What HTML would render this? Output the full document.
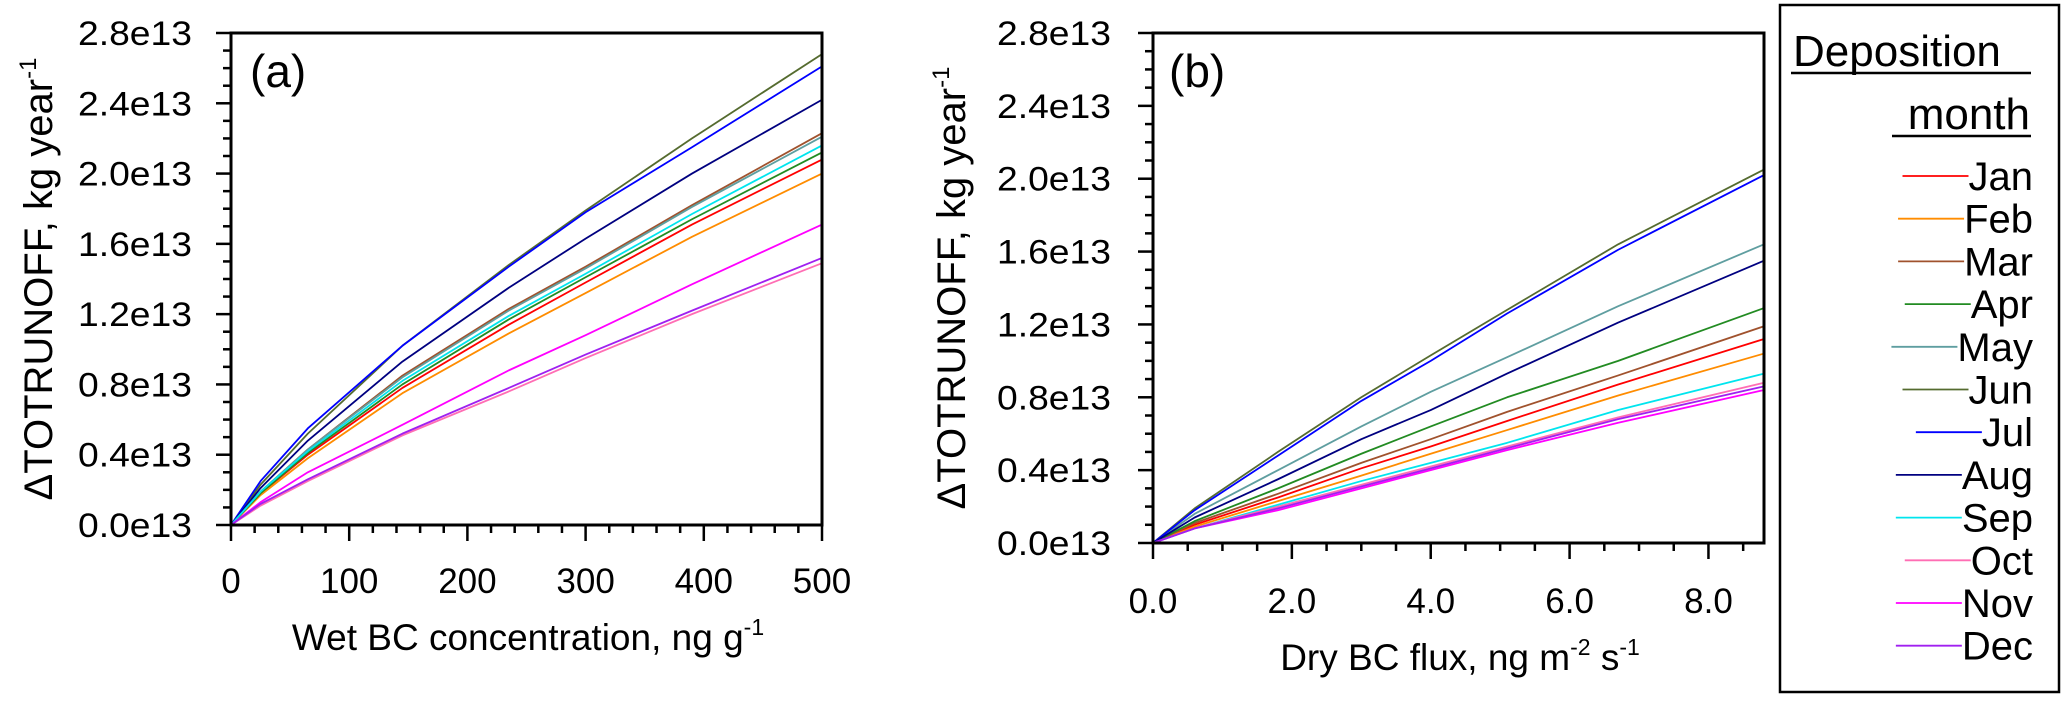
<!DOCTYPE html>
<html><head><meta charset="utf-8"><style>
html,body{margin:0;padding:0;background:#fff;}
svg{display:block;font-family:"Liberation Sans",Arial,sans-serif;}
</style></head><body>
<svg id="fig" width="2067" height="703" viewBox="0 0 2067 703" xmlns="http://www.w3.org/2000/svg">
<g id="pa"></g>
<g id="pb"></g>
<g id="legend">
<rect x="1780" y="5" width="279" height="687" fill="none" stroke="#000" stroke-width="2.5"/>
<text x="1793" y="66" font-size="44">Deposition</text>
<line x1="1791" y1="73" x2="2031" y2="73" stroke="#000" stroke-width="2.5"/>
<text x="2030" y="129" font-size="44" text-anchor="end">month</text>
<line x1="1892" y1="136" x2="2031" y2="136" stroke="#000" stroke-width="2.5"/>
</g>
</svg>
<script>
const months = ["Jan","Feb","Mar","Apr","May","Jun","Jul","Aug","Sep","Oct","Nov","Dec"];
const colors = ["#ff0000","#ff8c00","#a0522d","#228b22","#5f9ea0","#556b2f","#0000ff","#000080","#00e5ee","#ff6eb4","#ff00ff","#a020f0"];
// Panel (a): wet BC concentration
const xA = [0, 25, 65, 145, 235, 300, 390, 500];
const aJan = [0,0.18,0.40,0.78,1.14,1.38,1.71,2.08];
const aFeb = [0,0.17,0.38,0.75,1.09,1.32,1.64,2.00];
const aMar = [0,0.19,0.43,0.85,1.23,1.47,1.82,2.23];
const aApr = [0,0.18,0.41,0.80,1.17,1.41,1.74,2.12];
const aMay = [0,0.19,0.43,0.84,1.22,1.46,1.81,2.21];
const aJun = [0,0.23,0.52,1.02,1.48,1.79,2.20,2.68];
const aJul = [0,0.25,0.55,1.02,1.47,1.78,2.15,2.61];
const aAug = [0,0.21,0.48,0.93,1.35,1.63,2.00,2.42];
const aSep = [0,0.19,0.42,0.82,1.19,1.43,1.77,2.16];
const aOct = [0,0.11,0.25,0.51,0.76,0.95,1.20,1.49];
const aNov = [0,0.13,0.30,0.57,0.88,1.08,1.37,1.71];
const aDec = [0,0.12,0.26,0.52,0.78,0.97,1.22,1.52];
// Panel (b): dry BC flux
const xB = [0, 0.6, 1.8, 3.0, 4.0, 5.1, 6.7, 8.8];
const bJan = [0,0.10,0.25,0.41,0.53,0.67,0.87,1.12];
const bFeb = [0,0.09,0.23,0.37,0.49,0.62,0.81,1.04];
const bMar = [0,0.11,0.27,0.44,0.57,0.72,0.92,1.19];
const bApr = [0,0.12,0.30,0.49,0.64,0.80,1.00,1.29];
const bMay = [0,0.16,0.40,0.64,0.83,1.02,1.30,1.64];
const bJun = [0,0.19,0.50,0.80,1.03,1.28,1.64,2.05];
const bJul = [0,0.18,0.48,0.78,1.00,1.26,1.61,2.02];
const bAug = [0,0.14,0.35,0.57,0.73,0.93,1.21,1.55];
const bSep = [0,0.08,0.21,0.34,0.44,0.55,0.73,0.93];
const bOct = [0,0.08,0.20,0.32,0.42,0.53,0.69,0.88];
const bNov = [0,0.08,0.18,0.30,0.40,0.51,0.66,0.84];
const bDec = [0,0.08,0.19,0.31,0.41,0.52,0.68,0.86];
const yTicks = ["0.0e13","0.4e13","0.8e13","1.2e13","1.6e13","2.0e13","2.4e13","2.8e13"];
const xTicksA = ["0","100","200","300","400","500"];
const xTicksB = ["0.0","2.0","4.0","6.0","8.0"];

const seriesA = [aJan,aFeb,aMar,aApr,aMay,aJun,aJul,aAug,aSep,aOct,aNov,aDec];
const seriesB = [bJan,bFeb,bMar,bApr,bMay,bJun,bJul,bAug,bSep,bOct,bNov,bDec];
const NS = "http://www.w3.org/2000/svg";
function mk(tag, attrs, parent){const e=document.createElementNS(NS,tag);for(const k in attrs)e.setAttribute(k,attrs[k]);parent.appendChild(e);return e;}

function panel(g, cfg){
  const {L,R,T,B,xmax,xs,series,xTickVals,xTickLbls,xMinor,label,labX,ytitleX,ytickR,xlblY,xtitle,xtitleY,xtitleX} = cfg;
  const sx = v => L + v/xmax*(R-L);
  const sy = v => B - v/2.8*(B-T);
  series.forEach((s,i)=>{
    const p = mk("polyline",{points:s.map((v,j)=>sx(xs[j])+","+sy(v)).join(" "),fill:"none",stroke:colors[i],"stroke-width":"1.8","stroke-linejoin":"round"},g);
    
    
  });
  const fr = mk("rect",{x:L,y:T,width:R-L,height:B-T,fill:"none",stroke:"#000","stroke-width":"3"},g);
  
  
  for(let k=0;k<=28;k++){
    const v=k/10, y=sy(v), major=k%4===0;
    mk("line",{x1:L-(major?15:8),x2:L,y1:y,y2:y,stroke:"#000","stroke-width":"2.5"},g);
  }
  yTicks.forEach((t,k)=>{
    const tx = mk("text",{x:ytickR,y:sy(k*0.4)+12,"font-size":"34","text-anchor":"end",textLength:"114",lengthAdjust:"spacingAndGlyphs"},g);
    tx.textContent=t;
    
    
  });
  for(let v=0; v<=xmax+1e-9; v+=xMinor){
    const x=sx(v);
    const major = xTickVals.some(t=>Math.abs(t-v)<1e-6);
    mk("line",{x1:x,x2:x,y1:B,y2:B+(major?16:8),stroke:"#000","stroke-width":"2.5"},g);
  }
  xTickLbls.forEach((t,k)=>{
    const tx = mk("text",{x:sx(xTickVals[k]),y:xlblY,"font-size":"35","text-anchor":"middle"},g);
    tx.textContent=t;
    
    
  });
  const pl = mk("text",{x:labX,y:T+54,"font-size":"46"},g);
  pl.textContent=label;
  
  
  const yt = mk("text",{x:0,y:0,"font-size":"40","text-anchor":"middle",transform:"translate("+ytitleX+","+((T+B)/2)+") rotate(-90)"},g);
  yt.innerHTML = 'ΔTOTRUNOFF, kg year<tspan font-size="24" dy="-16">-1</tspan>';
  
  
  const xt = mk("text",{x:xtitleX,y:xtitleY,"font-size":"37","text-anchor":"middle"},g);
  xt.innerHTML = xtitle;
  
  
}

panel(document.getElementById("pa"),{L:231,R:822,T:33,B:525,xmax:500,xs:xA,series:seriesA,
  xTickVals:[0,100,200,300,400,500],xTickLbls:xTicksA,xMinor:20,label:"(a)",labX:250,
  ytitleX:52,ytickR:192,xlblY:593,xtitle:'Wet BC concentration, ng g<tspan font-size="23" dy="-15">-1</tspan>',xtitleY:650,xtitleX:528});
panel(document.getElementById("pb"),{L:1153,R:1764,T:33,B:543,xmax:8.8,xs:xB,series:seriesB,
  xTickVals:[0,2,4,6,8],xTickLbls:xTicksB,xMinor:0.5,label:"(b)",labX:1169,
  ytitleX:965,ytickR:1111,xlblY:613,xtitle:'Dry BC flux, ng m<tspan font-size="23" dy="-15">-2</tspan><tspan dy="15">  s</tspan><tspan font-size="23" dy="-15">-1</tspan>',xtitleY:670,xtitleX:1460});

const lg = document.getElementById("legend");
months.forEach((m,i)=>{
  const y = 176 + i*42.7;
  const t = mk("text",{x:2033,y:y+14,"font-size":"40","text-anchor":"end"},lg);
  t.textContent=m;
  
  
  const w = t.getComputedTextLength();
  const ln = mk("line",{x1:2033-w-66,x2:2033-w,y1:y,y2:y,stroke:colors[i],"stroke-width":"1.8"},lg);
  
  
});
</script>
</body></html>
